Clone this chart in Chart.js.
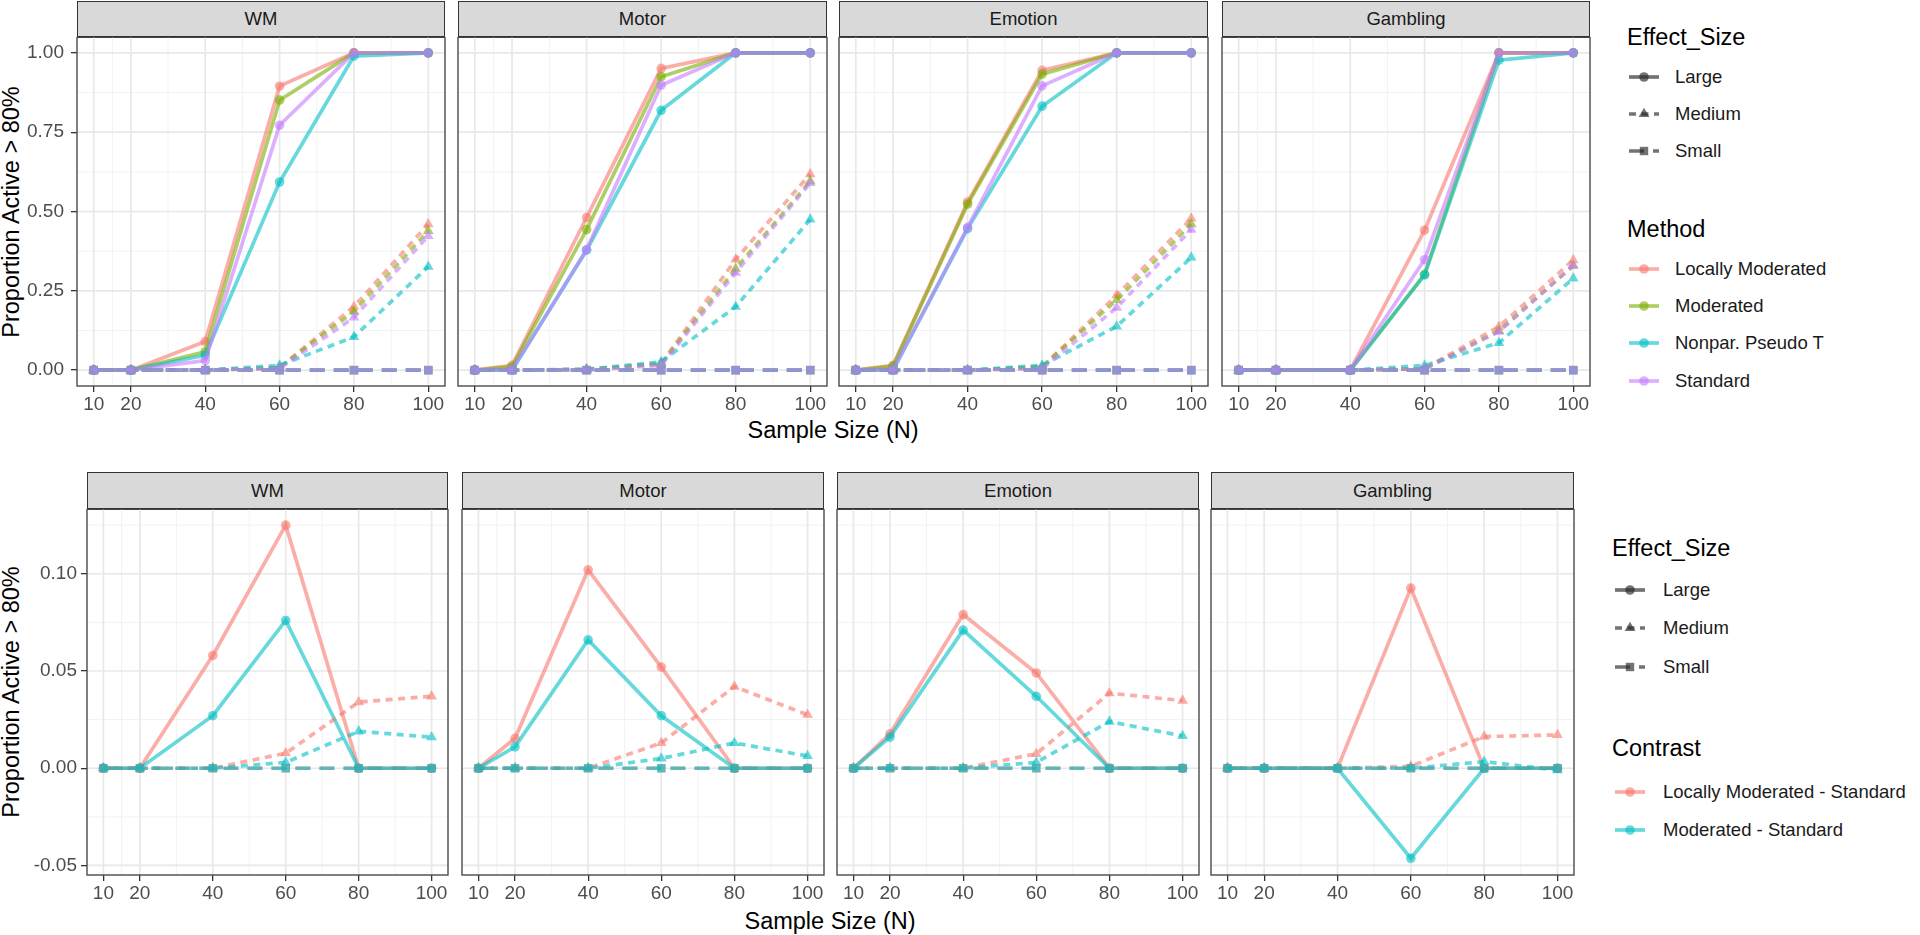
<!DOCTYPE html>
<html>
<head>
<meta charset="utf-8">
<script src="https://cdn.jsdelivr.net/npm/chart.js@4.4.1/dist/chart.umd.min.js"></script>
<style>
  body { margin: 0; background: #fff; width: 1920px; height: 935px; overflow: hidden; position: relative;
         font-family: "Liberation Sans", Arial, sans-serif; }
  canvas { position: absolute; }
  .strip { position: absolute; box-sizing: border-box; background: #d9d9d9; border: 1.3px solid #333;
           border-bottom-width: 2px; color: #1a1a1a; font-size: 18.5px;
           display: flex; align-items: center; justify-content: center; }
  .title { position: absolute; font-size: 23.5px; color: #000; white-space: nowrap; transform: translate(-50%, -50%); }
  .ytitle { transform: translate(-50%, -50%) rotate(-90deg); }
  .lg-title { position: absolute; font-size: 23.5px; color: #000; white-space: nowrap; transform: translateY(-50%); }
  .lg-text { position: absolute; font-size: 18.5px; color: #1a1a1a; white-space: nowrap; transform: translateY(-50%); }
  .lg-key { position: absolute; }
</style>
</head>
<body>
<div class="title" style="left:833px;top:430px">Sample Size (N)</div>
<div class="title" style="left:830px;top:921px">Sample Size (N)</div>
<div class="title ytitle" style="left:11px;top:212px">Proportion Active &gt; 80%</div>
<div class="title ytitle" style="left:11px;top:692px">Proportion Active &gt; 80%</div>

<script>
const sampleSizes = [10, 20, 40, 60, 80, 100];
const tasks = ['WM', 'Motor', 'Emotion', 'Gambling'];
const methods = ['Locally Moderated', 'Moderated', 'Nonpar. Pseudo T', 'Standard'];
const contrasts = ['Locally Moderated - Standard', 'Moderated - Standard'];
const effectSizes = ['Large', 'Medium', 'Small'];
const xTicks = [10, 20, 40, 60, 80, 100];
const xMinor = [15, 30, 50, 70, 90];
const topYTicks = [0, 0.25, 0.5, 0.75, 1];
const topYMinor = [0.125, 0.375, 0.625, 0.875];
const bottomYTicks = [-0.05, 0, 0.05, 0.1];
const bottomYMinor = [-0.025, 0.025, 0.075, 0.125];

// top row: proportion, one row per method (order of `methods`)
const wmLarge = [
  [0, 0, 0.09, 0.895, 1, 1],
  [0, 0, 0.058, 0.851, 1, 1],
  [0, 0, 0.047, 0.593, 0.99, 1],
  [0, 0, 0.03, 0.772, 1, 1]
];
const wmMedium = [
  [0, 0, 0, 0.008, 0.2, 0.46],
  [0, 0, 0, 0.008, 0.185, 0.439],
  [0, 0, 0, 0.015, 0.105, 0.326],
  [0, 0, 0, 0.005, 0.166, 0.423]
];
const wmSmall = [
  [0, 0, 0, 0, 0, 0],
  [0, 0, 0, 0, 0, 0],
  [0, 0, 0, 0, 0, 0],
  [0, 0, 0, 0, 0, 0]
];
const motorLarge = [
  [0, 0.015, 0.481, 0.951, 1, 1],
  [0, 0.01, 0.443, 0.925, 1, 1],
  [0, 0, 0.378, 0.819, 1, 1],
  [0, 0, 0.38, 0.898, 1, 1]
];
const motorMedium = [
  [0, 0, 0.003, 0.02, 0.349, 0.618],
  [0, 0, 0.002, 0.02, 0.32, 0.596],
  [0, 0, 0.002, 0.026, 0.2, 0.475],
  [0, 0, 0, 0.015, 0.307, 0.59]
];
const motorSmall = [
  [0, 0, 0, 0, 0, 0],
  [0, 0, 0, 0, 0, 0],
  [0, 0, 0, 0, 0, 0],
  [0, 0, 0, 0, 0, 0]
];
const emotionLarge = [
  [0, 0.015, 0.53, 0.945, 1, 1],
  [0, 0.012, 0.523, 0.933, 1, 1],
  [0, 0, 0.446, 0.832, 1, 1],
  [0, 0, 0.45, 0.896, 1, 1]
];
const emotionMedium = [
  [0, 0, 0, 0.01, 0.236, 0.478],
  [0, 0, 0, 0.01, 0.221, 0.46],
  [0, 0, 0, 0.015, 0.138, 0.355],
  [0, 0, 0, 0.004, 0.197, 0.443]
];
const emotionSmall = [
  [0, 0, 0, 0, 0, 0],
  [0, 0, 0, 0, 0, 0],
  [0, 0, 0, 0, 0, 0],
  [0, 0, 0, 0, 0, 0]
];
const gamblingLarge = [
  [0, 0, 0, 0.441, 1, 1],
  [0, 0, 0, 0.302, 1, 1],
  [0, 0, 0, 0.3, 0.977, 1],
  [0, 0, 0, 0.348, 1, 1]
];
const gamblingMedium = [
  [0, 0, 0, 0.005, 0.137, 0.347],
  [0, 0, 0, 0.004, 0.124, 0.329],
  [0, 0, 0, 0.015, 0.086, 0.289],
  [0, 0, 0, 0.004, 0.121, 0.33]
];
const gamblingSmall = [
  [0, 0, 0, 0, 0, 0],
  [0, 0, 0, 0, 0, 0],
  [0, 0, 0, 0, 0, 0],
  [0, 0, 0, 0, 0, 0]
];

// bottom row: difference to Standard, one row per contrast
const wmDiffLarge = [[0, 0, 0.058, 0.125, 0, 0], [0, 0, 0.027, 0.076, 0, 0]];
const wmDiffMedium = [[0, 0, 0, 0.0077, 0.034, 0.037], [0, 0, 0, 0.003, 0.019, 0.016]];
const wmDiffSmall = [[0, 0, 0, 0, 0, 0], [0, 0, 0, 0, 0, 0]];
const motorDiffLarge = [[0, 0.0154, 0.102, 0.052, 0, 0], [0, 0.011, 0.066, 0.027, 0, 0]];
const motorDiffMedium = [[0, 0, 0, 0.013, 0.042, 0.0275], [0, 0, 0, 0.005, 0.013, 0.0063]];
const motorDiffSmall = [[0, 0, 0, 0, 0, 0], [0, 0, 0, 0, 0, 0]];
const emotionDiffLarge = [[0, 0.0177, 0.079, 0.049, 0, 0], [0, 0.016, 0.071, 0.037, 0, 0]];
const emotionDiffMedium = [[0, 0, 0, 0.0074, 0.0386, 0.0348], [0, 0, 0, 0.003, 0.024, 0.0166]];
const emotionDiffSmall = [[0, 0, 0, 0, 0, 0], [0, 0, 0, 0, 0, 0]];
const gamblingDiffLarge = [[0, 0, 0, 0.0926, 0, 0], [0, 0, 0, -0.0463, 0, 0]];
const gamblingDiffMedium = [[0, 0, 0, 0.001, 0.0163, 0.0171], [0, 0, 0, 0, 0.0034, -0.001]];
const gamblingDiffSmall = [[0, 0, 0, 0, 0, 0], [0, 0, 0, 0, 0, 0]];

const hue4 = ['#F8766D', '#7CAE00', '#00BFC4', '#C77CFF'];
const hue2 = ['#F8766D', '#00BFC4'];
const family = '"Liberation Sans", Arial, sans-serif';

const effectStyle = {
  Large: { dash: [], point: 'circle', radius: 4.8 },
  Medium: { dash: [7, 5.5], point: 'triangle', radius: 6.2 },
  Small: { dash: [15, 9], point: 'rect', radius: 6 }
};

function rgba(hex, a) {
  const n = parseInt(hex.slice(1), 16);
  return `rgba(${n >> 16}, ${(n >> 8) & 255}, ${n & 255}, ${a})`;
}

// ggplot-like panel: grid (major + minor) under the data, border over it
const ggPanel = {
  id: 'ggPanel',
  beforeDatasetsDraw(chart, args, o) {
    const { ctx, chartArea: a } = chart;
    const x = chart.scales.x, y = chart.scales.y;
    ctx.save();
    const vline = (v, c, w) => {
      const p = x.getPixelForValue(v);
      ctx.strokeStyle = c; ctx.lineWidth = w;
      ctx.beginPath(); ctx.moveTo(p, a.top); ctx.lineTo(p, a.bottom); ctx.stroke();
    };
    const hline = (v, c, w) => {
      const p = y.getPixelForValue(v);
      if (p < a.top || p > a.bottom) return;
      ctx.strokeStyle = c; ctx.lineWidth = w;
      ctx.beginPath(); ctx.moveTo(a.left, p); ctx.lineTo(a.right, p); ctx.stroke();
    };
    xMinor.forEach(v => vline(v, '#f2f2f2', 1));
    o.yMinor.forEach(v => hline(v, '#f2f2f2', 1));
    xTicks.forEach(v => vline(v, '#e8e8e8', 1.7));
    o.yMajor.forEach(v => hline(v, '#e8e8e8', 1.7));
    ctx.restore();
  },
  afterDatasetsDraw(chart) {
    const { ctx, chartArea: a } = chart;
    ctx.save();
    ctx.strokeStyle = '#4a4a4a';
    ctx.lineWidth = 1.4;
    ctx.strokeRect(a.left, a.top, a.width, a.height);
    ctx.restore();
  }
};

function buildDatasets(groups, labels, palette) {
  const out = [];
  effectSizes.forEach((eff, e) => {
    const st = effectStyle[eff];
    groups[e].forEach((vals, m) => {
      const col = rgba(palette[m], 0.6);
      out.push({
        label: labels[m] + ' / ' + eff,
        data: sampleSizes.map((n, i) => ({ x: n, y: vals[i] })),
        borderColor: col,
        backgroundColor: col,
        borderWidth: 3.7,
        borderDash: st.dash,
        pointStyle: st.point,
        pointRadius: st.radius,
        pointHoverRadius: st.radius,
        pointBorderWidth: 0,
        tension: 0,
        fill: false
      });
    });
  });
  return out.reverse(); // later groups drawn on top, as in ggplot
}

const PAD_L = 70, PAD_R = 26, PAD_B = 40;

function addPanel(left, width, row, title, datasets, showY) {
  const strip = document.createElement('div');
  strip.className = 'strip';
  strip.style.left = left + 'px';
  strip.style.top = row.stripTop + 'px';
  strip.style.width = width + 'px';
  strip.style.height = (row.plotTop - row.stripTop + 1) + 'px';
  strip.textContent = title;
  document.body.appendChild(strip);

  const cv = document.createElement('canvas');
  cv.width = width + PAD_L + PAD_R;
  cv.height = row.plotHeight + PAD_B;
  cv.style.left = (left - PAD_L) + 'px';
  cv.style.top = row.plotTop + 'px';
  document.body.appendChild(cv);

  new Chart(cv, {
    type: 'line',
    data: { datasets: datasets },
    options: {
      responsive: false,
      animation: false,
      events: [],
      layout: { autoPadding: false, padding: { left: 0, right: PAD_R, top: 0, bottom: 0 } },
      plugins: {
        legend: { display: false },
        tooltip: { enabled: false },
        ggPanel: { yMajor: row.yTicks, yMinor: row.yMinor }
      },
      scales: {
        x: {
          type: 'linear',
          min: 5.5,
          max: 104.5,
          afterBuildTicks: s => { s.ticks = xTicks.map(v => ({ value: v })); },
          afterFit: s => { s.height = PAD_B; s.paddingLeft = 0; s.paddingRight = 0; },
          grid: { drawOnChartArea: false, drawTicks: true, tickLength: 6, color: '#333', lineWidth: 1.3 },
          border: { display: false },
          ticks: { color: '#4d4d4d', font: { size: 19, family: family }, padding: 1,
                   autoSkip: false, maxRotation: 0, callback: v => String(v) }
        },
        y: {
          type: 'linear',
          min: row.yMin,
          max: row.yMax,
          afterBuildTicks: s => { s.ticks = row.yTicks.map(v => ({ value: v })); },
          afterFit: s => { s.width = PAD_L; s.paddingTop = 0; s.paddingBottom = 0; },
          grid: { display: showY, drawOnChartArea: false, drawTicks: true, tickLength: 6, color: '#333', lineWidth: 1.3 },
          border: { display: false },
          ticks: { display: showY, color: '#4d4d4d', font: { size: 19, family: family }, padding: row.yPad,
                   autoSkip: false, callback: v => v.toFixed(2) }
        }
      }
    },
    plugins: [ggPanel]
  });
}

const topRow = { stripTop: 1, plotTop: 37, plotHeight: 349, yMin: -0.05, yMax: 1.05,
                 yTicks: topYTicks, yMinor: topYMinor, yPad: 7 };
const bottomRow = { stripTop: 472, plotTop: 509, plotHeight: 366, yMin: -0.0549, yMax: 0.1333,
                    yTicks: bottomYTicks, yMinor: bottomYMinor, yPad: 4 };

const topGroups = [
  [wmLarge, wmMedium, wmSmall],
  [motorLarge, motorMedium, motorSmall],
  [emotionLarge, emotionMedium, emotionSmall],
  [gamblingLarge, gamblingMedium, gamblingSmall]
];
const bottomGroups = [
  [wmDiffLarge, wmDiffMedium, wmDiffSmall],
  [motorDiffLarge, motorDiffMedium, motorDiffSmall],
  [emotionDiffLarge, emotionDiffMedium, emotionDiffSmall],
  [gamblingDiffLarge, gamblingDiffMedium, gamblingDiffSmall]
];

const topBoxes = [[77, 368], [458, 369], [839, 369], [1222, 368]];
const bottomBoxes = [[87, 361], [462, 362], [837, 362], [1211, 363]];

tasks.forEach((t, i) => {
  addPanel(topBoxes[i][0], topBoxes[i][1], topRow, t, buildDatasets(topGroups[i], methods, hue4), i === 0);
  addPanel(bottomBoxes[i][0], bottomBoxes[i][1], bottomRow, t, buildDatasets(bottomGroups[i], contrasts, hue2), i === 0);
});

// legends
function keySvg(color, dash, shape) {
  const d = dash.length ? `stroke-dasharray="${dash.join(' ')}"` : '';
  let mark = '';
  if (shape === 'circle') mark = `<circle cx="15" cy="10" r="4.8" fill="${color}"/>`;
  if (shape === 'triangle') mark = `<polygon points="15,3.8 20.4,13.1 9.6,13.1" fill="${color}"/>`;
  if (shape === 'rect') mark = `<rect x="10.8" y="5.8" width="8.4" height="8.4" fill="${color}"/>`;
  return `<svg width="30" height="20"><line x1="0" y1="10" x2="30" y2="10" stroke="${color}" stroke-width="3.7" ${d}/>${mark}</svg>`;
}

function addText(cls, text, x, y) {
  const el = document.createElement('div');
  el.className = cls;
  el.style.left = x + 'px';
  el.style.top = y + 'px';
  el.textContent = text;
  document.body.appendChild(el);
}

function addKey(svg, x, y) {
  const el = document.createElement('div');
  el.className = 'lg-key';
  el.style.left = x + 'px';
  el.style.top = (y - 10) + 'px';
  el.innerHTML = svg;
  document.body.appendChild(el);
}

function addLegend(pos, groupTitle, groupLabels, palette) {
  addText('lg-title', 'Effect_Size', pos.titleX, pos.effTitleY);
  effectSizes.forEach((eff, i) => {
    const st = effectStyle[eff];
    addKey(keySvg('rgba(40, 40, 40, 0.65)', st.dash, st.point), pos.keyX, pos.effY[i]);
    addText('lg-text', eff, pos.textX, pos.effY[i]);
  });
  addText('lg-title', groupTitle, pos.titleX, pos.groupTitleY);
  groupLabels.forEach((lab, i) => {
    addKey(keySvg(rgba(palette[i], 0.6), [], 'circle'), pos.keyX, pos.groupY[i]);
    addText('lg-text', lab, pos.textX, pos.groupY[i]);
  });
}

addLegend({ titleX: 1627, keyX: 1629, textX: 1675, effTitleY: 37, effY: [77, 114, 151],
            groupTitleY: 229, groupY: [269, 306, 343, 381] }, 'Method', methods, hue4);
addLegend({ titleX: 1612, keyX: 1615, textX: 1663, effTitleY: 548, effY: [590, 628, 667],
            groupTitleY: 748, groupY: [792, 830] }, 'Contrast', contrasts, hue2);
</script>
</body>
</html>
